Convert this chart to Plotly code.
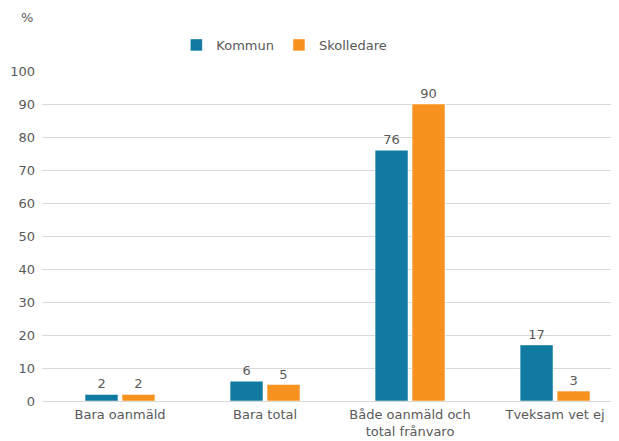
import plotly.graph_objects as go

categories = ["Bara oanmäld", "Bara total", "Både oanmäld och<br>total frånvaro", "Tveksam vet ej"]
kommun = [2, 6, 76, 17]
skolledare = [2, 5, 90, 3]
y_ticks = [0, 10, 20, 30, 40, 50, 60, 70, 80, 90, 100]

FONT = "DejaVu Sans, Verdana, sans-serif"
GRAY = "#595959"

fig = go.Figure()
fig.add_trace(go.Bar(name="Kommun", x=categories, y=kommun, text=kommun,
                     textposition="outside", marker=dict(color="#117aa2", line=dict(color="#ffffff", width=0.5)),
                     textfont=dict(size=13, color=GRAY, family=FONT), cliponaxis=False))
fig.add_trace(go.Bar(name="Skolledare", x=categories, y=skolledare, text=skolledare,
                     textposition="outside", marker=dict(color="#f7921e", line=dict(color="#ffffff", width=0.5)),
                     textfont=dict(size=13, color=GRAY, family=FONT), cliponaxis=False))

fig.update_layout(
    width=611, height=433,
    margin=dict(l=34, r=0, t=63, b=40),
    paper_bgcolor="white", plot_bgcolor="white",
    font=dict(family=FONT, size=13, color=GRAY),
    barmode="group", bargap=0.49, bargroupgap=0.11,
    showlegend=True,
    legend=dict(orientation="h", x=0.42, xanchor="center", y=1.079, yanchor="middle",
                font=dict(size=13, color=GRAY, family=FONT), itemwidth=30, tracegroupgap=0,
                bgcolor="rgba(0,0,0,0)"),
    xaxis=dict(range=[-0.538, 3.441], showgrid=False, showline=False, ticks="",
               ticklabelstandoff=4,
               tickfont=dict(size=13, color=GRAY, family=FONT), fixedrange=True),
    yaxis=dict(range=[0, 100], tickvals=y_ticks, showgrid=True, gridcolor="#d9d9d9", gridwidth=1,
               zeroline=True, zerolinecolor="#d9d9d9", zerolinewidth=1, showline=False, ticks="",
               ticklabelstandoff=6,
               tickfont=dict(size=13, color=GRAY, family=FONT), fixedrange=True),
    annotations=[dict(text="%", xref="paper", yref="paper", x=-0.012, y=1.161,
                      xanchor="right", yanchor="middle", showarrow=False,
                      font=dict(size=13, color=GRAY, family=FONT))],
)

fig.write_html("out.html")
